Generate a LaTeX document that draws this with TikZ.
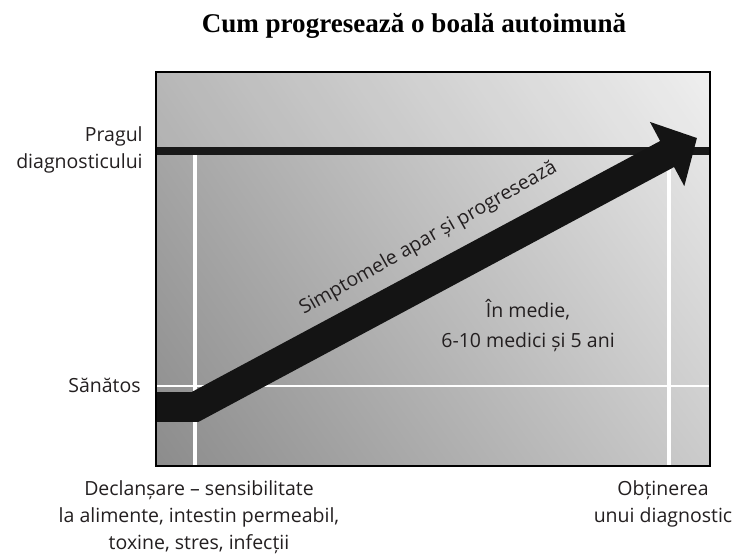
\documentclass[tikz,border=0pt]{standalone}
\usepackage{fontspec}
\setmainfont{Open Sans}
\newfontfamily\titlefont{Liberation Serif}
\usetikzlibrary{arrows.meta,shadings}

\definecolor{inkgray}{HTML}{231F20}
\definecolor{bgtl}{HTML}{ABABAB}
\definecolor{bgtr}{HTML}{ECECEC}
\definecolor{bgbl}{HTML}{8C8C8C}
\definecolor{bgbr}{HTML}{CBCBCB}

\tikzstyle{axistext} = [font=\fontsize{11.1pt}{15.6pt}\selectfont, text=inkgray, inner sep=0pt]
\tikzstyle{gridline} = [white, line width=2.7pt]
\tikzstyle{threshold} = [black!90, line width=4.5pt]
\tikzstyle{bigarrow} = [black!92, line width=16.8pt, line join=miter, -{Triangle[length=19.3pt,width=40.3pt]}]

\begin{document}
\begin{tikzpicture}[x=0.02cm, y=-0.02cm]
  \useasboundingbox (0,0) rectangle (737,557);

  % chart area
  \shade [upper left=bgtl, upper right=bgtr, lower left=bgbl, lower right=bgbr]
    (156,72) rectangle (710,466);
  \fill [white, opacity=0.15] (156,72) rectangle (710,147);

  % white guide lines
  \draw [gridline] (195,155) -- (195,466);
  \draw [gridline, line width=2.2pt] (669,155) -- (669,466);
  \draw [gridline, line width=1.7pt] (156,386) -- (710,386);

  % diagnosis threshold
  \draw [threshold] (156,151) -- (710,151);

  % progression arrow
  \coordinate (start) at (156,407);
  \coordinate (bend) at (195,407);
  \coordinate (tip) at (697,138);
  \draw [bigarrow] (start) -- (bend) -- (tip);

  \draw [black, line width=1.1pt] (156,72) rectangle (710,466);

  \node [anchor=base] (title) at (414,33)
    {\titlefont\bfseries\fontsize{15.4pt}{18pt}\selectfont Cum progresează o boală autoimună};
  \node [axistext, align=right, anchor=north east] (pragul) at (143,126) {Pragul\\diagnosticului};
  \node [axistext, anchor=base east] (sanatos) at (141,392) {Sănătos};
  \node [axistext, align=center, anchor=north] (declansare) at (199,480)
    {Declanșare – sensibilitate\\la alimente, intestin permeabil,\\toxine, stres, infecții};
  \node [axistext, align=center, anchor=north] (obtinerea) at (663,480) {Obținerea\\unui diagnostic};
  \node [axistext, align=center, anchor=north, font=\fontsize{11.1pt}{17pt}\selectfont] (medie) at (528,299)
    {În medie,\\6-10 medici și 5 ani};
  \node [axistext, anchor=base, rotate=29.5] (simptome) at (431,243) {Simptomele apar și progresează};
\end{tikzpicture}
\end{document}
